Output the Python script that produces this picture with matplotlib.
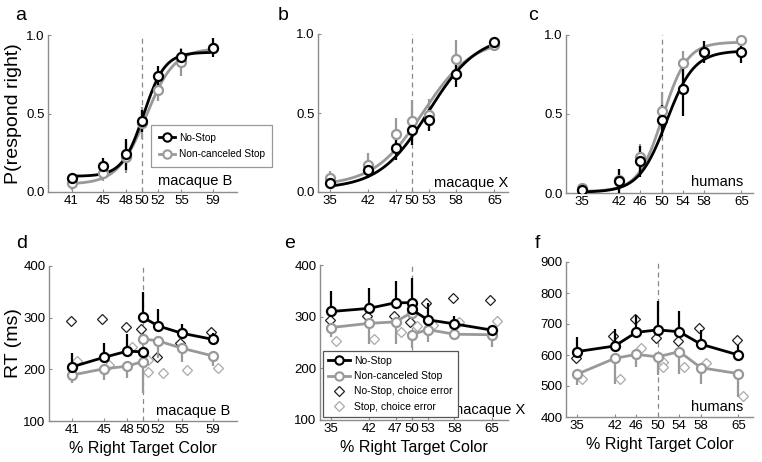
import numpy as np
import matplotlib.pyplot as plt
from matplotlib.lines import Line2D
from matplotlib.transforms import offset_copy

plt.rcParams['font.family'] = ['Liberation Sans', 'DejaVu Sans']

BLACK = '#000000'
GRAY = '#999999'
SPINE = '#8c8c8c'

# ---------------- data: choice (P respond right) ----------------
a_x = [41, 45, 48, 50, 52, 55, 59]
a_nostop = [0.09, 0.165, 0.24, 0.45, 0.74, 0.86, 0.92]
a_nostop_err = [0.03, 0.05, 0.10, 0.07, 0.06, 0.05, 0.06]
a_stop = [0.06, 0.12, 0.22, 0.44, 0.65, 0.83, 0.92]
a_stop_err = [0.05, 0.05, 0.10, 0.10, 0.07, 0.09, 0.03]
a_fit_nostop = (0.10, 0.89, 50.2, 1.35)   # floor, ceiling, midpoint, slope
a_fit_stop = (0.05, 0.915, 50.5, 1.8)

b_x = [35, 42, 47, 50, 53, 58, 65]
b_nostop = [0.06, 0.14, 0.28, 0.39, 0.455, 0.745, 0.95]
b_nostop_err = [0.02, 0.05, 0.08, 0.09, 0.07, 0.08, 0.02]
b_stop = [0.09, 0.17, 0.37, 0.45, 0.49, 0.84, 0.93]
b_stop_err = [0.04, 0.08, 0.10, 0.13, 0.10, 0.12, 0.03]
b_fit_nostop = (0.02, 1.0, 53.0, 4.5)
b_fit_stop = (0.04, 0.97, 52.0, 4.5)

c_x = [35, 42, 46, 50, 54, 58, 65]
c_nostop = [0.017, 0.074, 0.20, 0.46, 0.66, 0.89, 0.895]
c_nostop_err = [0.02, 0.08, 0.10, 0.10, 0.17, 0.07, 0.07]
c_stop = [0.03, 0.08, 0.23, 0.52, 0.82, 0.895, 0.97]
c_stop_err = [0.03, 0.07, 0.08, 0.12, 0.08, 0.05, 0.01]
c_fit_nostop = (0.005, 0.90, 50.9, 2.6)
c_fit_stop = (0.01, 0.955, 50.2, 2.3)

# ---------------- data: RT (ms) ----------------
d_x = [41, 45, 48, 50, 50, 52, 55, 59]
d_split = 4
d_nostop = [205, 223, 235, 234, 301, 284, 270, 258]
d_nostop_up = [26, 28, 33, 0, 49, 32, 17, 12]
d_stop = [189, 201, 206, 215, 259, 255, 241, 226]
d_stop_down = [16, 22, 23, 60, 40, 33, 26, 20]
d_ce_x = [41, 45, 48, 50, 52, 55, 59]
d_nostop_ce = [294, 297, 281, 278, 224, 250, 273]
d_stop_ce_x = [41, 45, 48, 50, 50, 52, 55, 59]
d_stop_ce = [217, 208, 243, 218, 195, 192, 199, 202]

e_x = [35, 42, 47, 50, 50, 53, 58, 65]
e_split = 4
e_nostop = [310, 316, 327, 327, 314, 294, 286, 274]
e_nostop_up = [40, 39, 42, 47, 0, 32, 16, 7]
e_stop = [279, 287, 290, 308, 265, 275, 266, 265]
e_stop_down = [18, 40, 42, 0, 26, 25, 11, 23]
e_ce_x = [35, 42, 47, 50, 53, 58, 65]
e_nostop_ce = [293, 301, 302, 290, 326, 337, 332]
e_stop_ce_x = [35, 42, 47, 50, 53, 58, 65]
e_stop_ce = [252, 257, 270, 282, 283, 289, 292]

f_x = [35, 42, 46, 50, 54, 58, 65]
f_split = None
f_nostop = [611, 629, 673, 681, 675, 635, 600]
f_nostop_up = [48, 55, 55, 94, 67, 45, 32]
f_stop = [538, 589, 602, 594, 611, 559, 540]
f_stop_down = [35, 81, 40, 60, 71, 51, 75]
f_ce_x = [35, 42, 46, 50, 54, 58, 65]
f_nostop_ce = [589, 661, 716, 656, 645, 686, 650]
f_stop_ce_x = [35, 42, 46, 50, 50, 54, 58, 65]
f_stop_ce = [524, 521, 624, 578, 560, 560, 575, 468]


def logistic(x, p):
    lo, hi, m, s = p
    return lo + (hi - lo) / (1 + np.exp(-(x - m) / s))


W, H = 762, 462
fig = plt.figure(figsize=(W / 100, H / 100), dpi=100)


def px_axes(l, t, r, b):
    return fig.add_axes([l / W, 1 - b / H, (r - l) / W, (b - t) / H])


def style(ax, xt, xlim, ylim, yt, yfmt):
    for s in ['top', 'right']:
        ax.spines[s].set_visible(False)
    for s in ['left', 'bottom']:
        ax.spines[s].set_color(SPINE)
        ax.spines[s].set_linewidth(1.0)
    ax.set_xlim(*xlim)
    ax.set_ylim(*ylim)
    ax.set_xticks(xt)
    ax.set_yticks(yt)
    ax.set_yticklabels([yfmt.format(v) for v in yt])
    ax.tick_params(direction='in', length=2, width=0.8, color=SPINE,
                   labelsize=9.5, pad=2.5)
    ax.axvline(50, color='#888888', lw=0.9, ls=(0, (4, 3)), zorder=1)


def psych(ax, x, ns, ns_err, st, st_err, fit_ns, fit_st):
    xx = np.linspace(x[0], x[-1], 300)
    ax.plot(xx, logistic(xx, fit_st), color=GRAY, lw=2, zorder=2)
    ax.plot(xx, logistic(xx, fit_ns), color=BLACK, lw=2, zorder=3)
    ax.errorbar(x, st, yerr=st_err, fmt='none', ecolor=GRAY, elinewidth=1.6,
                zorder=2.5)
    ax.errorbar(x, ns, yerr=ns_err, fmt='none', ecolor=BLACK, elinewidth=1.6,
                zorder=3.5)
    ax.plot(x, st, 'o', ms=6.5, mfc='white', mec=GRAY, mew=1.6, zorder=4)
    ax.plot(x, ns, 'o', ms=6.5, mfc='white', mec=BLACK, mew=1.6, zorder=5)


def segments(n, split):
    if split is None:
        return [slice(0, n)]
    return [slice(0, split), slice(split, n)]


def rt(ax, x, split, ns, ns_up, st, st_down, ce_x, ns_ce, st_ce_x, st_ce):
    left = offset_copy(ax.transData, fig=fig, x=-1.5, y=0, units='dots')
    right = offset_copy(ax.transData, fig=fig, x=5, y=0, units='dots')
    ax.plot(ce_x, ns_ce, 'D', ms=5.5, mfc='white', mec='#222222', mew=0.9,
            transform=left, zorder=2)
    ax.plot(st_ce_x, st_ce, 'D', ms=5.5, mfc='white', mec='#aaaaaa', mew=0.9,
            transform=right, zorder=2)
    n = len(x)
    ax.errorbar(x, st, yerr=[st_down, [0] * n], fmt='none', ecolor=GRAY,
                elinewidth=1.6, zorder=3)
    ax.errorbar(x, ns, yerr=[[0] * n, ns_up], fmt='none', ecolor=BLACK,
                elinewidth=1.6, zorder=4)
    xa, nsa, sta = np.array(x), np.array(ns), np.array(st)
    for sl in segments(n, split):
        ax.plot(xa[sl], sta[sl], '-o', color=GRAY, lw=2, ms=6.5, mfc='white',
                mec=GRAY, mew=1.6, zorder=5)
    for sl in segments(n, split):
        ax.plot(xa[sl], nsa[sl], '-o', color=BLACK, lw=2, ms=6.5, mfc='white',
                mec=BLACK, mew=1.6, zorder=6)


# ---------------- top row ----------------
ax_a = px_axes(48, 35, 237, 192)
style(ax_a, a_x, (38.0, 62.1), (0, 1), [0, 0.5, 1.0], '{:.1f}')
psych(ax_a, a_x, a_nostop, a_nostop_err, a_stop, a_stop_err,
      a_fit_nostop, a_fit_stop)
ax_a.set_ylabel('P(respond right)', fontsize=14)
ax_a.yaxis.set_label_coords(-0.14, 0.5)
ax_a.text(0.975, 0.045, 'macaque B', transform=ax_a.transAxes, ha='right',
          va='baseline', fontsize=10.5)
h1 = [Line2D([], [], color=BLACK, lw=2, marker='o', ms=6, mfc='white',
             mec=BLACK, mew=1.5),
      Line2D([], [], color=GRAY, lw=2, marker='o', ms=6, mfc='white',
             mec=GRAY, mew=1.5)]
leg = ax_a.legend(h1, ['No-Stop', 'Non-canceled Stop'], loc='lower left',
                  bbox_to_anchor=(0.545, 0.16), fontsize=7.3, fancybox=False,
                  framealpha=1, edgecolor=GRAY, handlelength=1.6,
                  borderpad=0.75, labelspacing=0.65, handletextpad=0.4,
                  borderaxespad=0)
leg.get_frame().set_linewidth(0.9)
leg.set_zorder(10)

ax_b = px_axes(318, 34, 508, 192)
style(ax_b, b_x, (32.8, 67.5), (0, 1), [0, 0.5, 1.0], '{:.1f}')
psych(ax_b, b_x, b_nostop, b_nostop_err, b_stop, b_stop_err,
      b_fit_nostop, b_fit_stop)
ax_b.text(1.0, 0.03, 'macaque X', transform=ax_b.transAxes, ha='right',
          va='baseline', fontsize=10.5)

ax_c = px_axes(566, 35, 753, 193)
style(ax_c, c_x, (32.0, 67.2), (0, 1), [0, 0.5, 1.0], '{:.1f}')
psych(ax_c, c_x, c_nostop, c_nostop_err, c_stop, c_stop_err,
      c_fit_nostop, c_fit_stop)
ax_c.text(0.947, 0.045, 'humans', transform=ax_c.transAxes, ha='right',
          va='baseline', fontsize=10.5)

# ---------------- bottom row ----------------
ax_d = px_axes(49, 266, 237, 421)
style(ax_d, d_x[:4] + d_x[5:], (38.0, 62.1), (100, 400),
      [100, 200, 300, 400], '{:d}')
rt(ax_d, d_x, d_split, d_nostop, d_nostop_up, d_stop, d_stop_down,
   d_ce_x, d_nostop_ce, d_stop_ce_x, d_stop_ce)
ax_d.set_ylabel('RT (ms)', fontsize=14)
ax_d.yaxis.set_label_coords(-0.145, 0.5)
ax_d.set_xlabel('% Right Target Color', fontsize=11.5, labelpad=3)
ax_d.text(0.963, 0.04, 'macaque B', transform=ax_d.transAxes, ha='right',
          va='baseline', fontsize=10.5)

ax_e = px_axes(320, 265, 508, 420)
style(ax_e, e_x[:4] + e_x[5:], (32.9, 68.0), (100, 400),
      [100, 200, 300, 400], '{:d}')
rt(ax_e, e_x, e_split, e_nostop, e_nostop_up, e_stop, e_stop_down,
   e_ce_x, e_nostop_ce, e_stop_ce_x, e_stop_ce)
ax_e.set_xlabel('% Right Target Color', fontsize=11.5, labelpad=3)
ax_e.text(1.09, 0.04, 'macaque X', transform=ax_e.transAxes, ha='right',
          va='baseline', fontsize=10.5)
h2 = h1 + [Line2D([], [], ls='none', marker='D', ms=5.5, mfc='white',
                  mec='#222222', mew=0.9),
           Line2D([], [], ls='none', marker='D', ms=5.5, mfc='white',
                  mec='#aaaaaa', mew=0.9)]
leg2 = ax_e.legend(h2, ['No-Stop', 'Non-canceled Stop',
                        'No-Stop, choice error', 'Stop, choice error'],
                   loc='lower left', bbox_to_anchor=(0.015, 0.02),
                   fontsize=7.5, fancybox=False, framealpha=1,
                   edgecolor='#555555', handlelength=2.1, borderpad=0.5,
                   labelspacing=0.5, handletextpad=0.4, borderaxespad=0)
leg2.get_frame().set_linewidth(0.9)
leg2.set_zorder(10)

ax_f = px_axes(566, 262, 753, 417)
style(ax_f, f_x, (32.95, 67.7), (400, 900),
      [400, 500, 600, 700, 800, 900], '{:d}')
rt(ax_f, f_x, f_split, f_nostop, f_nostop_up, f_stop, f_stop_down,
   f_ce_x, f_nostop_ce, f_stop_ce_x, f_stop_ce)
ax_f.set_xlabel('% Right Target Color', fontsize=11.5, labelpad=3)
ax_f.text(0.947, 0.04, 'humans', transform=ax_f.transAxes, ha='right',
          va='baseline', fontsize=10.5)

# panel letters
for lab, (px, py) in zip('abcdef', [(21, 15), (283, 15), (533, 15),
                                     (22, 243), (290, 243), (537, 243)]):
    fig.text(px / W, 1 - py / H, lab, ha='center', va='center', fontsize=14)

fig.savefig('out.png', dpi=100)
